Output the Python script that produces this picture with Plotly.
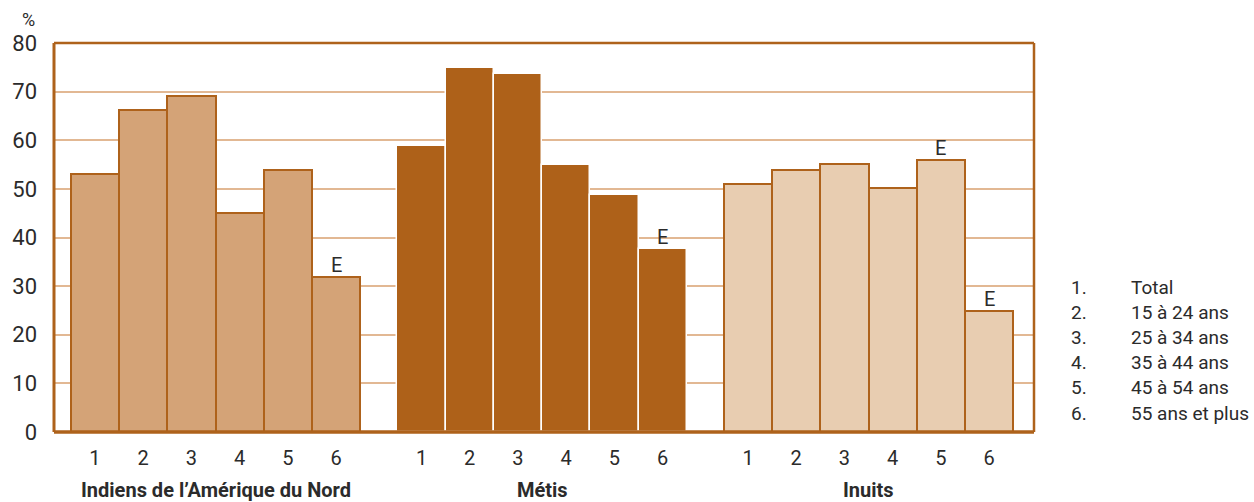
import plotly.graph_objects as go

# Age-group codes shown under each bar
age_codes = ["1", "2", "3", "4", "5", "6"]
groups = ["Indiens de l\u2019Am\u00e9rique du Nord", "M\u00e9tis", "Inuits"]

# Percentages by age group (1 = Total, 2..6 = age bands)
indiens = [53.1, 66.2, 69.0, 45.0, 53.9, 31.9]
metis = [58.9, 74.8, 73.6, 54.9, 48.7, 37.7]
inuits = [51.1, 53.9, 55.1, 50.2, 55.9, 24.9]

# Bars flagged "E" (use with caution)
flag_indiens = [False, False, False, False, False, True]
flag_metis = [False, False, False, False, False, True]
flag_inuits = [False, False, False, False, True, True]

legend_items = ["Total", "15 \u00e0 24 ans", "25 \u00e0 34 ans", "35 \u00e0 44 ans",
                "45 \u00e0 54 ans", "55 ans et plus"]

FONT = "Roboto, Liberation Sans, sans-serif"
BROWN = "#ae621b"
GRID = "#e2b893"
TEXT = "#2b2b2b"

# plot area in pixels (for paper-coordinate placement of side texts)
L, R, T, B = 52, 220, 43, 70
PW, PH = 1254 - L - R, 502 - T - B

GROUP_STEP = 6.77
series = [
    (indiens, flag_indiens, "#d4a377", BROWN, 2),
    (metis, flag_metis, "#ae6119", "#ffffff", 1.5),
    (inuits, flag_inuits, "#e8cdb1", BROWN, 2),
]


def px_x(x):
    return (x - L) / PW


def px_y(y):
    return (502 - B - y) / PH


fig = go.Figure()
tickvals, ticktext = [], []
annotations = []
for g, (vals, flags, fill, edge, lw) in enumerate(series):
    xs = [g * GROUP_STEP + i for i in range(len(vals))]
    tickvals += xs
    ticktext += age_codes
    fig.add_trace(go.Bar(
        x=xs, y=vals, width=1.0,
        marker=dict(color=fill, line=dict(color=edge, width=lw)),
        showlegend=False, hoverinfo="y",
    ))
    for x, v, f in zip(xs, vals, flags):
        if f:
            annotations.append(dict(x=x, y=v, xref="x", yref="y", text="E",
                                    showarrow=False, yanchor="bottom", yshift=-2,
                                    font=dict(family=FONT, size=20, color=TEXT)))
    annotations.append(dict(x=g * GROUP_STEP + 2.5, y=px_y(490), xref="x", yref="paper",
                            text="<b>%s</b>" % groups[g], showarrow=False,
                            yanchor="middle",
                            font=dict(family=FONT, size=20, color=TEXT)))

# "%" unit label above the y axis
annotations.append(dict(xref="paper", yref="paper", x=px_x(26), y=px_y(19),
                        text="%", showarrow=False, xanchor="center", yanchor="middle",
                        font=dict(family=FONT, size=18, color=TEXT)))

# Key of age-group codes on the right
for k, label in enumerate(legend_items):
    yk = 287 + k * 25.2
    annotations.append(dict(xref="paper", yref="paper", x=px_x(1069), y=px_y(yk),
                            text="%d." % (k + 1), showarrow=False, xanchor="left",
                            yanchor="middle", font=dict(family=FONT, size=19, color=TEXT)))
    annotations.append(dict(xref="paper", yref="paper", x=px_x(1129), y=px_y(yk),
                            text=label, showarrow=False, xanchor="left",
                            yanchor="middle", font=dict(family=FONT, size=19, color=TEXT)))

shapes = [
    dict(type="line", xref="paper", yref="paper", x0=0, x1=1, y0=1, y1=1,
         line=dict(color=BROWN, width=2.5), layer="above"),
    dict(type="line", xref="paper", yref="paper", x0=1, x1=1, y0=0, y1=1,
         line=dict(color=BROWN, width=2.5), layer="above"),
    dict(type="line", xref="paper", yref="paper", x0=0, x1=0, y0=0, y1=1,
         line=dict(color=BROWN, width=3), layer="above"),
    dict(type="line", xref="paper", yref="paper", x0=0, x1=1, y0=0, y1=0,
         line=dict(color=BROWN, width=3.5), layer="above"),
]

fig.update_layout(
    width=1254, height=502,
    margin=dict(l=L, r=R, t=T, b=B),
    paper_bgcolor="white", plot_bgcolor="white",
    bargap=0, barmode="overlay",
    font=dict(family=FONT, size=20, color=TEXT),
    xaxis=dict(range=[-0.85, 2 * GROUP_STEP + 5.5 + 0.43], tickvals=tickvals,
               ticktext=ticktext, showgrid=False, zeroline=False, showline=False,
               ticks="", ticklabelstandoff=12,
               tickfont=dict(family=FONT, size=20, color=TEXT)),
    yaxis=dict(range=[0, 80], dtick=10, showgrid=True, gridcolor=GRID, gridwidth=2,
               zeroline=False, showline=False, ticks="", ticklabelstandoff=16,
               tickfont=dict(family=FONT, size=22, color=TEXT)),
    annotations=annotations,
    shapes=shapes,
)

fig.write_html("out.html")
